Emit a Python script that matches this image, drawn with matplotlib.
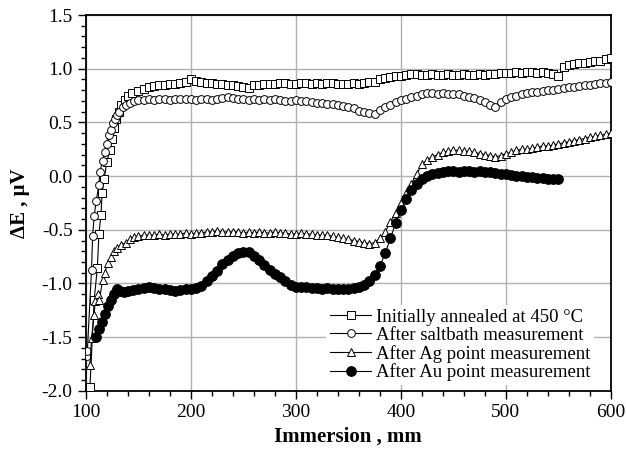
import numpy as np
import matplotlib
matplotlib.use("Agg")
import matplotlib.pyplot as plt
from matplotlib.ticker import MultipleLocator

plt.rcParams['font.family'] = ['Liberation Serif', 'DejaVu Serif']
plt.rcParams['mathtext.fontset'] = 'stix'

# regular sampling positions (mm) after the initial rise
x_reg = np.arange(150, 601, 5)
x_reg_au = np.arange(150, 551, 5)

# --- Initially annealed at 450 °C (squares)
x_ann_start = [104, 108, 111, 112.5, 114.5, 115.5, 117.5, 120, 123, 125, 127, 129, 131.5, 134, 137, 140, 144]
y_ann_start = [-1.96, -1.15, -0.86, -0.54, -0.36, -0.16, -0.03, 0.13, 0.24, 0.35, 0.45, 0.53, 0.60, 0.66, 0.71, 0.75, 0.77]
y_ann_reg = [
    0.79, 0.81, 0.83, 0.84, 0.85, 0.85, 0.86, 0.86, 0.87, 0.88,
    0.90, 0.89, 0.88, 0.87, 0.87, 0.86, 0.86, 0.85, 0.85, 0.84,
    0.83, 0.82, 0.85, 0.85, 0.86, 0.86, 0.86, 0.87, 0.87, 0.86,
    0.86, 0.87, 0.87, 0.86, 0.87, 0.86, 0.87, 0.87, 0.86, 0.86,
    0.86, 0.87, 0.86, 0.87, 0.88, 0.88, 0.90, 0.91, 0.92, 0.93,
    0.93, 0.94, 0.95, 0.95, 0.94, 0.94, 0.95, 0.94, 0.94, 0.95,
    0.94, 0.94, 0.95, 0.94, 0.94, 0.95, 0.94, 0.95, 0.95, 0.96,
    0.96, 0.96, 0.97, 0.96, 0.97, 0.97, 0.96, 0.97, 0.96, 0.95,
    0.93, 1.02, 1.03, 1.04, 1.05, 1.05, 1.06, 1.07, 1.07, 1.09,
    1.10]

# --- After saltbath measurement (open circles)
x_salt_start = [101, 101.5, 105.5, 106.5, 108, 110, 112.5, 113.5, 116, 118, 120, 122, 124, 126, 128, 130, 132, 135, 138, 142, 146]
y_salt_start = [-1.68, -1.63, -0.87, -0.56, -0.37, -0.23, -0.08, 0.04, 0.14, 0.22, 0.30, 0.38, 0.43, 0.49, 0.53, 0.57, 0.60, 0.64, 0.66, 0.68, 0.70]
y_salt_reg = [
    0.71, 0.71, 0.72, 0.71, 0.72, 0.72, 0.71, 0.72, 0.72, 0.72,
    0.72, 0.71, 0.72, 0.72, 0.71, 0.72, 0.73, 0.74, 0.73, 0.72,
    0.72, 0.71, 0.72, 0.71, 0.72, 0.71, 0.72, 0.71, 0.70, 0.70,
    0.71, 0.70, 0.70, 0.69, 0.68, 0.68, 0.67, 0.67, 0.66, 0.65,
    0.64, 0.63, 0.61, 0.60, 0.59, 0.58, 0.62, 0.64, 0.66, 0.69,
    0.71, 0.72, 0.74, 0.75, 0.76, 0.77, 0.77, 0.76, 0.77, 0.76,
    0.76, 0.76, 0.75, 0.74, 0.73, 0.71, 0.69, 0.66, 0.64, 0.69,
    0.72, 0.74, 0.75, 0.76, 0.77, 0.78, 0.78, 0.79, 0.80, 0.80,
    0.81, 0.82, 0.83, 0.83, 0.84, 0.85, 0.85, 0.86, 0.87, 0.87,
    0.88]

# --- After Ag point measurement (open triangles)
x_ag_start = [104, 105.5, 108, 109, 111.5, 113, 116, 118, 121, 124, 127, 130, 134, 138, 142, 146]
y_ag_start = [-1.76, -1.51, -1.29, -1.16, -1.10, -1.15, -0.97, -0.90, -0.81, -0.75, -0.70, -0.67, -0.64, -0.62, -0.59, -0.57]
y_ag_reg = [
    -0.56, -0.55, -0.55, -0.55, -0.54, -0.55, -0.54, -0.54, -0.54, -0.53,
    -0.54, -0.53, -0.53, -0.52, -0.52, -0.51, -0.52, -0.52, -0.52, -0.52,
    -0.53, -0.52, -0.53, -0.52, -0.53, -0.53, -0.52, -0.53, -0.53, -0.54,
    -0.54, -0.53, -0.54, -0.54, -0.55, -0.55, -0.55, -0.56, -0.57, -0.58,
    -0.59, -0.60, -0.61, -0.62, -0.63, -0.62, -0.58, -0.52, -0.43, -0.34,
    -0.25, -0.16, -0.07, 0.02, 0.11, 0.15, 0.18, 0.20, 0.22, 0.23,
    0.24, 0.24, 0.23, 0.23, 0.22, 0.21, 0.20, 0.19, 0.18, 0.19,
    0.21, 0.22, 0.24, 0.25, 0.25, 0.26, 0.27, 0.28, 0.28, 0.29,
    0.30, 0.31, 0.32, 0.33, 0.34, 0.35, 0.36, 0.37, 0.38, 0.39,
    0.40]

# --- After Au point measurement (filled circles)
x_au_start = [110, 112.5, 115, 118, 121, 124, 127, 130, 133, 136, 140, 145]
y_au_start = [-1.50, -1.42, -1.36, -1.28, -1.21, -1.15, -1.10, -1.05, -1.07, -1.08, -1.07, -1.06]
y_au_reg = [
    -1.05, -1.04, -1.03, -1.04, -1.05, -1.05, -1.06, -1.07, -1.06, -1.05,
    -1.05, -1.04, -1.02, -0.98, -0.93, -0.88, -0.82, -0.78, -0.74, -0.72,
    -0.71, -0.71, -0.74, -0.78, -0.83, -0.87, -0.91, -0.94, -0.98, -1.01,
    -1.03, -1.03, -1.03, -1.04, -1.04, -1.05, -1.04, -1.05, -1.05, -1.05,
    -1.05, -1.04, -1.03, -1.01, -0.98, -0.92, -0.84, -0.72, -0.58, -0.44,
    -0.32, -0.21, -0.13, -0.07, -0.03, 0.00, 0.02, 0.03, 0.04, 0.05,
    0.05, 0.04, 0.05, 0.05, 0.04, 0.05, 0.04, 0.04, 0.03, 0.02,
    0.02, 0.01, 0.00, 0.00, -0.01, -0.01, -0.02, -0.02, -0.03, -0.03,
    -0.03]

labels = ['Initially annealed at 450 °C', 'After saltbath measurement',
          'After Ag point measurement', 'After Au point measurement']

series = [
    (np.r_[x_ann_start, x_reg], np.r_[y_ann_start, y_ann_reg], 's', 'white', 5.2),
    (np.r_[x_salt_start, x_reg], np.r_[y_salt_start, y_salt_reg], 'o', 'white', 5.6),
    (np.r_[x_ag_start, x_reg], np.r_[y_ag_start, y_ag_reg], '^', 'white', 5.6),
    (np.r_[x_au_start, x_reg_au], np.r_[y_au_start, y_au_reg], 'o', 'black', 7.0),
]

fig = plt.figure(figsize=(6.26, 4.55), dpi=100)
ax = fig.add_axes([0.137, 0.141, 0.839, 0.826])

for (xs, ys, mk, fc, ms), lab in zip(series, labels):
    ax.plot(xs, ys, color='black', lw=0.8, marker=mk, markersize=ms,
            markerfacecolor=fc, markeredgecolor='black', markeredgewidth=0.7,
            label=lab, zorder=3)

ax.set_xlim(100, 600)
ax.set_ylim(-2.0, 1.5)
ax.xaxis.set_major_locator(MultipleLocator(100))
ax.xaxis.set_minor_locator(MultipleLocator(20))
ax.yaxis.set_major_locator(MultipleLocator(0.5))
ax.yaxis.set_minor_locator(MultipleLocator(0.1))
ax.yaxis.set_major_formatter(matplotlib.ticker.FormatStrFormatter('%.1f'))

ax.grid(True, which='major', color='#b0b0b0', lw=1.0, zorder=0)
ax.tick_params(which='major', direction='out', length=6, width=1.0, labelsize=14, top=False, right=False)
ax.tick_params(which='minor', direction='out', length=3.5, width=1.0, top=False, right=False)
for sp in ax.spines.values():
    sp.set_linewidth(1.3)

ax.set_xlabel('Immersion , mm', fontsize=15, fontweight='bold', labelpad=4)
ax.set_ylabel('ΔE , μV', fontsize=15, fontweight='bold', labelpad=8)

leg = ax.legend(loc='lower right', bbox_to_anchor=(0.975, 0.005), fontsize=13.5,
                frameon=True, fancybox=False, edgecolor='none', facecolor='white',
                framealpha=1.0, handlelength=2.2, handletextpad=0.25,
                labelspacing=0.05, borderaxespad=0.2, borderpad=0.2)
leg.set_zorder(5)

fig.savefig('out.png', dpi=100)
